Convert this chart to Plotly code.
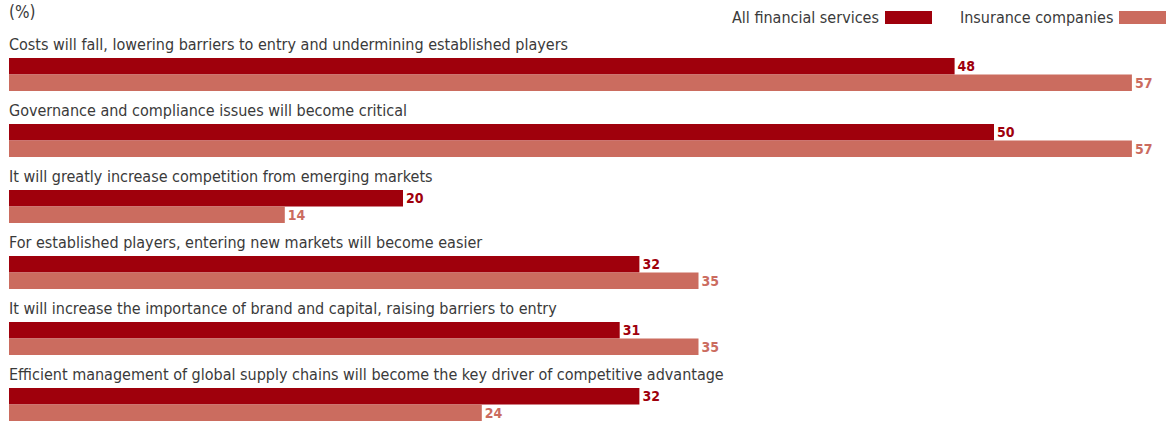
import plotly.graph_objects as go

# Survey responses, percent of respondents
statements = [
    "Costs will fall, lowering barriers to entry and undermining established players",
    "Governance and compliance issues will become critical",
    "It will greatly increase competition from emerging markets",
    "For established players, entering new markets will become easier",
    "It will increase the importance of brand and capital, raising barriers to entry",
    "Efficient management of global supply chains will become the key driver of competitive advantage",
]
all_financial = [48, 50, 20, 32, 31, 32]
insurance = [57, 57, 14, 35, 35, 24]

series_names = ["All financial services", "Insurance companies"]
DARK = "#9f000c"
LIGHT = "#cb6c5f"
TEXT = "#3a3a3a"
FONT = "Liberation Sans Narrow, DejaVu Sans Condensed, Roboto, sans-serif"

W, H = 1170, 421
ML = 9
PW = W - ML
PX_PER_UNIT = 19.7

pos = list(range(len(statements)))

fig = go.Figure()
fig.add_trace(go.Bar(
    y=pos, x=all_financial, orientation="h", name=series_names[0],
    width=0.25, offset=-0.25, marker=dict(color=DARK, line=dict(width=0)),
    text=[str(v) for v in all_financial], textposition="outside",
    textfont=dict(family=FONT, size=14, color=DARK, weight="bold"),
    constraintext="none", cliponaxis=False, hoverinfo="skip",
))
fig.add_trace(go.Bar(
    y=pos, x=insurance, orientation="h", name=series_names[1],
    width=0.25, offset=0.0, marker=dict(color=LIGHT, line=dict(width=0)),
    text=[str(v) for v in insurance], textposition="outside",
    textfont=dict(family=FONT, size=14, color=LIGHT, weight="bold"),
    constraintext="none", cliponaxis=False, hoverinfo="skip",
))

annotations = []
for i, s in enumerate(statements):
    annotations.append(dict(
        x=0, y=i - 0.25, xref="x", yref="y", text=s, showarrow=False,
        xanchor="left", yanchor="bottom", yshift=2, xshift=-2,
        font=dict(family=FONT, size=16, color=TEXT),
    ))

# Unit note in the top-left corner
annotations.append(dict(
    x=-2 / PW, y=1, xref="paper", yref="paper", text="(%)",
    showarrow=False, xanchor="left", yanchor="top",
    font=dict(family=FONT, size=17, color=TEXT),
))

# Legend: label followed by a colour swatch on its right
legend_items = [(series_names[0], DARK, 885, 932), (series_names[1], LIGHT, 1119, 1166)]
shapes = []
for name, col, x0, x1 in legend_items:
    annotations.append(dict(
        x=(x0 - 4 - ML) / PW, y=1 - 17 / H, xref="paper", yref="paper",
        text=name, showarrow=False, xanchor="right", yanchor="middle",
        font=dict(family=FONT, size=16, color=TEXT),
    ))
    shapes.append(dict(
        type="rect", xref="paper", yref="paper",
        x0=(x0 - ML) / PW, x1=(x1 - ML) / PW,
        y0=1 - 24 / H, y1=1 - 11 / H, fillcolor=col, line=dict(width=0),
    ))

fig.update_layout(
    width=W, height=H,
    margin=dict(l=ML, r=0, t=0, b=0),
    paper_bgcolor="white", plot_bgcolor="white",
    barmode="overlay", showlegend=False,
    xaxis=dict(range=[0, PW / PX_PER_UNIT], visible=False, fixedrange=True),
    yaxis=dict(range=[5.25, 5.25 - H / 66.0], visible=False, fixedrange=True),
    annotations=annotations, shapes=shapes,
)

fig.write_html("out.html")
